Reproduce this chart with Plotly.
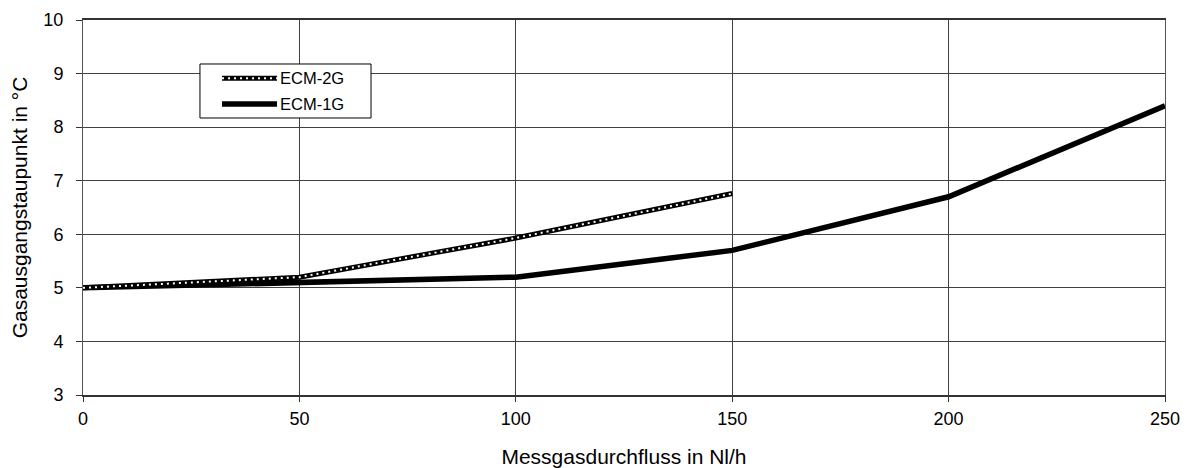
import plotly.graph_objects as go

# Data
flow_2g = [0, 50, 100, 150]
dew_2g = [5.0, 5.2, 5.93, 6.76]
flow_1g = [0, 50, 100, 150, 200, 250]
dew_1g = [5.0, 5.1, 5.2, 5.7, 6.7, 8.4]
name_2g = "ECM-2G"
name_1g = "ECM-1G"
x_ticks = [0, 50, 100, 150, 200, 250]
y_ticks = [3, 4, 5, 6, 7, 8, 9, 10]
x_title = "Messgasdurchfluss in Nl/h"
y_title = "Gasausgangstaupunkt in °C"

FONT = "Liberation Sans, Arial, sans-serif"

fig = go.Figure()
fig.add_trace(go.Scatter(x=flow_1g, y=dew_1g, mode="lines", name=name_1g,
                         line=dict(color="black", width=5.5), showlegend=False))
fig.add_trace(go.Scatter(x=flow_2g, y=dew_2g, mode="lines", name=name_2g,
                         line=dict(color="black", width=5), showlegend=False))
fig.add_trace(go.Scatter(x=flow_2g, y=dew_2g, mode="lines", name=name_2g,
                         line=dict(color="white", width=2, dash="2px,4px"),
                         showlegend=False, hoverinfo="skip"))

# manual legend (paper coordinates)
lx0, lx1, ly0, ly1 = 0.1081, 0.2662, 0.7387, 0.8827
fig.add_shape(type="rect", xref="paper", yref="paper", x0=lx0, x1=lx1, y0=ly0, y1=ly1,
              line=dict(color="black", width=1), fillcolor="white", layer="above")
sx0, sx1 = 0.1285, 0.1793
y2, y1 = 0.8445, 0.776
fig.add_shape(type="line", xref="paper", yref="paper", x0=sx0, x1=sx1, y0=y2, y1=y2,
              line=dict(color="black", width=5), layer="above")
fig.add_shape(type="line", xref="paper", yref="paper", x0=sx0, x1=sx1, y0=y2, y1=y2,
              line=dict(color="white", width=2, dash="2px,4px"), layer="above")
fig.add_shape(type="line", xref="paper", yref="paper", x0=sx0, x1=sx1, y0=y1, y1=y1,
              line=dict(color="black", width=5.5), layer="above")
for txt, yy in [(name_2g, y2), (name_1g, y1)]:
    fig.add_annotation(xref="paper", yref="paper", x=0.1800, y=yy, text=txt,
                       showarrow=False, xanchor="left", yanchor="middle",
                       font=dict(family=FONT, size=16.5, color="black"))

# page body has an 8px margin; compensate so the plot area lands where it should
fig.update_layout(
    width=1176, height=460,
    margin=dict(l=75, r=19, t=12, b=73),
    paper_bgcolor="white", plot_bgcolor="white",
    font=dict(family=FONT, color="black"),
    showlegend=False,
)
fig.update_xaxes(range=[0, 250], tickvals=x_ticks, ticks="outside", ticklen=5,
                 tickcolor="#333", tickfont=dict(size=18), ticklabelstandoff=2,
                 showgrid=True, gridcolor="#404040", gridwidth=1,
                 showline=True, linecolor="#333", linewidth=1.5, mirror=True,
                 zeroline=False, automargin=False,
                 title=dict(text=x_title, font=dict(size=21), standoff=31))
fig.update_yaxes(range=[3, 10], tickvals=y_ticks, ticks="outside", ticklen=6,
                 tickcolor="#333", tickfont=dict(size=18), ticklabelstandoff=9,
                 showgrid=True, gridcolor="#404040", gridwidth=1,
                 showline=True, linecolor="#555", linewidth=1, mirror=True,
                 zeroline=False, automargin=False,
                 title=dict(text=y_title, font=dict(size=21), standoff=12))

fig.write_html("out.html")
